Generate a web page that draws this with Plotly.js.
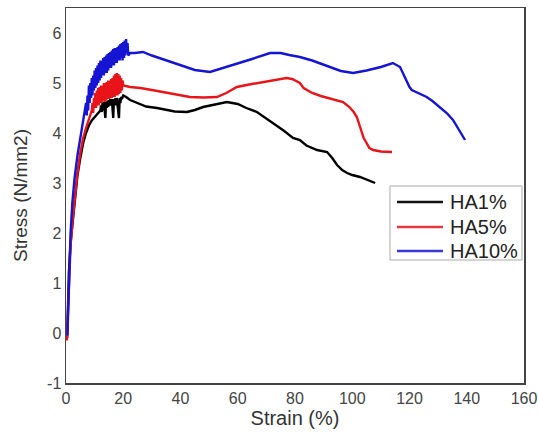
<!DOCTYPE html>
<html>
<head>
<meta charset="utf-8">
<script src="https://cdn.plot.ly/plotly-3.0.1.min.js"></script>
<style>html,body{margin:0;padding:0;background:#fff;}#chart{width:538px;height:433px;}</style>
</head>
<body>
<div id="chart"></div>
<script>
const seriesNames = ["HA1%", "HA5%", "HA10%"];

const strainHA1 = [0.4,0.6,1.0,1.6,2.4,3.2,4,5,6,7,8,9,10,11,
  12,12.25,12.5,12.75,13,13.25,13.5,13.75,14,14.25,14.5,14.75,15,15.25,15.5,15.75,16,16.25,16.5,16.75,17,17.25,17.5,17.75,18,18.25,18.5,18.75,19,19.25,19.5,
  20,21,22.4,25,28,31.8,35,38,42.3,45,47.9,52,56.2,60,63,66.7,69,72.3,76,79.3,81.7,84,87.7,91.2,93,94.7,96.5,98.2,100,102.7,105,108];
const stressHA1 = [-0.1,0.5,1.2,1.8,2.3,2.75,3.15,3.5,3.8,4.0,4.15,4.25,4.32,4.38,
  4.45,4.55,4.42,4.6,4.45,4.62,4.5,4.3,4.62,4.5,4.65,4.52,4.66,4.55,4.68,4.55,4.68,4.45,4.3,4.68,4.55,4.7,4.55,4.7,4.5,4.32,4.3,4.7,4.6,4.72,4.68,
  4.75,4.72,4.66,4.6,4.53,4.5,4.46,4.43,4.42,4.46,4.52,4.57,4.62,4.58,4.5,4.42,4.33,4.2,4.05,3.9,3.86,3.75,3.66,3.62,3.5,3.36,3.26,3.2,3.16,3.12,3.07,3.0];

const strainHA5 = [0.3,0.6,1.0,1.6,2.4,3.2,4,5,6,7,8,8.5,
  9,9.25,9.5,9.75,10,10.25,10.5,10.75,11,11.25,11.5,11.75,12,12.25,12.5,12.75,13,13.25,13.5,13.75,14,14.25,14.5,14.75,15,15.25,15.5,15.75,16,16.25,16.5,16.75,17,17.25,17.5,17.75,18,18.25,18.5,18.75,19,19.25,19.5,19.75,20,
  22.4,26,30,34,38,43.3,48,52.7,56,59.7,64,68.8,73,77,79,81.7,83,86,89,93,96.8,99,100.5,101.6,103,104,105,106,107.3,110,113.9];
const stressHA5 = [-0.15,0.4,1.1,1.75,2.3,2.8,3.2,3.6,3.9,4.1,4.3,4.4,
  4.45,4.6,4.4,4.7,4.5,4.8,4.5,4.85,4.55,4.9,4.55,4.92,4.6,4.95,4.6,4.95,4.65,5.0,4.62,5.0,4.65,5.02,4.68,5.05,4.68,5.05,4.7,5.08,4.7,5.1,4.72,5.15,4.72,5.18,4.75,5.2,4.75,5.18,4.78,5.15,4.8,5.1,4.85,5.05,4.95,
  4.92,4.9,4.86,4.82,4.77,4.72,4.71,4.72,4.8,4.92,4.97,5.02,5.06,5.1,5.08,5.0,4.9,4.8,4.74,4.68,4.62,4.52,4.42,4.32,4.1,3.9,3.8,3.7,3.66,3.63,3.62];

const strainHA10 = [0.5,0.8,1.1,1.6,2.2,3,4,5,6,6.5,
  7,7.25,7.5,7.75,8,8.25,8.5,8.75,9,9.25,9.5,9.75,10,10.25,10.5,10.75,11,11.25,11.5,11.75,12,12.25,12.5,12.75,13,13.25,13.5,13.75,14,14.25,14.5,14.75,15,15.25,15.5,15.75,16,16.25,16.5,16.75,17,17.25,17.5,17.75,18,18.25,18.5,18.75,19,19.25,19.5,19.75,20,20.25,20.5,20.75,21,21.25,21.5,21.75,
  22.4,24,26.9,30,35,40,45,50.3,55,60.8,65,71.3,75,78,81.7,86,92,96,100.3,105,110,114.2,116.7,118.5,120,120.8,123,126,128,130.7,133,135.2,137.5,139.4];
const stressHA10 = [-0.05,0.6,1.3,2.0,2.6,3.1,3.55,3.9,4.3,4.45,
  4.6,4.35,4.75,4.45,4.95,4.6,5.0,4.7,5.1,4.75,5.15,4.85,5.25,4.9,5.3,4.95,5.35,5.0,5.4,5.05,5.45,5.1,5.45,5.15,5.5,5.15,5.52,5.2,5.55,5.2,5.58,5.25,5.6,5.3,5.62,5.3,5.65,5.35,5.68,5.35,5.7,5.4,5.7,5.4,5.72,5.45,5.75,5.45,5.78,5.5,5.8,5.45,5.82,5.5,5.85,5.55,5.88,5.6,5.8,5.55,
  5.6,5.6,5.62,5.55,5.45,5.35,5.26,5.22,5.3,5.4,5.48,5.6,5.6,5.56,5.52,5.45,5.32,5.24,5.2,5.25,5.32,5.4,5.32,5.1,4.92,4.86,4.8,4.72,4.64,4.52,4.4,4.26,4.05,3.86];

const xTicks = [0,20,40,60,80,100,120,140,160];
const yTicks = [-1,0,1,2,3,4,5,6];

const colors = ["#000000", "#e8141a", "#1414d2"];
const legendColors = ["#111111", "#e03a3e", "#3a3ad0"];
const xs = [strainHA1, strainHA5, strainHA10];
const ys = [stressHA1, stressHA5, stressHA10];

const traces = seriesNames.map((n, i) => ({
  x: xs[i], y: ys[i], name: n, type: "scatter", mode: "lines",
  line: {color: colors[i], width: 2.4}, showlegend: false
}));

const FONT = "Arial, 'Liberation Sans', sans-serif";

// custom legend (box, line samples, labels) in paper coordinates
const legRowY = [0.4827, 0.416, 0.352];
const shapes = [{
  type: "rect", xref: "paper", yref: "paper",
  x0: 0.7074, x1: 0.9956, y0: 0.328, y1: 0.5253,
  line: {color: "#aaaaaa", width: 1}, fillcolor: "#ffffff", layer: "above"
}];
const annotations = [];
seriesNames.forEach((n, i) => {
  shapes.push({
    type: "line", xref: "paper", yref: "paper",
    x0: 0.7227, x1: 0.8231, y0: legRowY[i], y1: legRowY[i],
    line: {color: legendColors[i], width: 2.5}, layer: "above"
  });
  annotations.push({
    xref: "paper", yref: "paper", x: 0.834, y: legRowY[i],
    xanchor: "left", yanchor: "middle", showarrow: false, text: n,
    font: {family: FONT, size: 20, color: "#222"}
  });
});

const layout = {
  width: 538, height: 433,
  margin: {l: 66, r: 14, t: 8, b: 50},
  paper_bgcolor: "#fff", plot_bgcolor: "#fff",
  font: {family: FONT, color: "#333", size: 15},
  showlegend: false,
  shapes: shapes,
  annotations: annotations,
  xaxis: {
    range: [0, 160], tickvals: xTicks, ticktext: xTicks.map(String),
    showgrid: false, zeroline: false, showline: true, mirror: true,
    linecolor: "#444", linewidth: 1.5, ticks: "",
    tickfont: {size: 16, color: "#444"},
    title: {text: "Strain (%)", font: {size: 20, color: "#333"}, standoff: 4}
  },
  yaxis: {
    range: [-1, 6.5], tickvals: yTicks, ticktext: yTicks.map(String),
    showgrid: false, zeroline: false, showline: true, mirror: true,
    linecolor: "#444", linewidth: 1.5, ticks: "",
    tickfont: {size: 16, color: "#444"},
    title: {text: "Stress (N/mm2)", font: {size: 19, color: "#333"}, standoff: 14}
  }
};

Plotly.newPlot("chart", traces, layout, {staticPlot: true, displayModeBar: false});
</script>
</body>
</html>
